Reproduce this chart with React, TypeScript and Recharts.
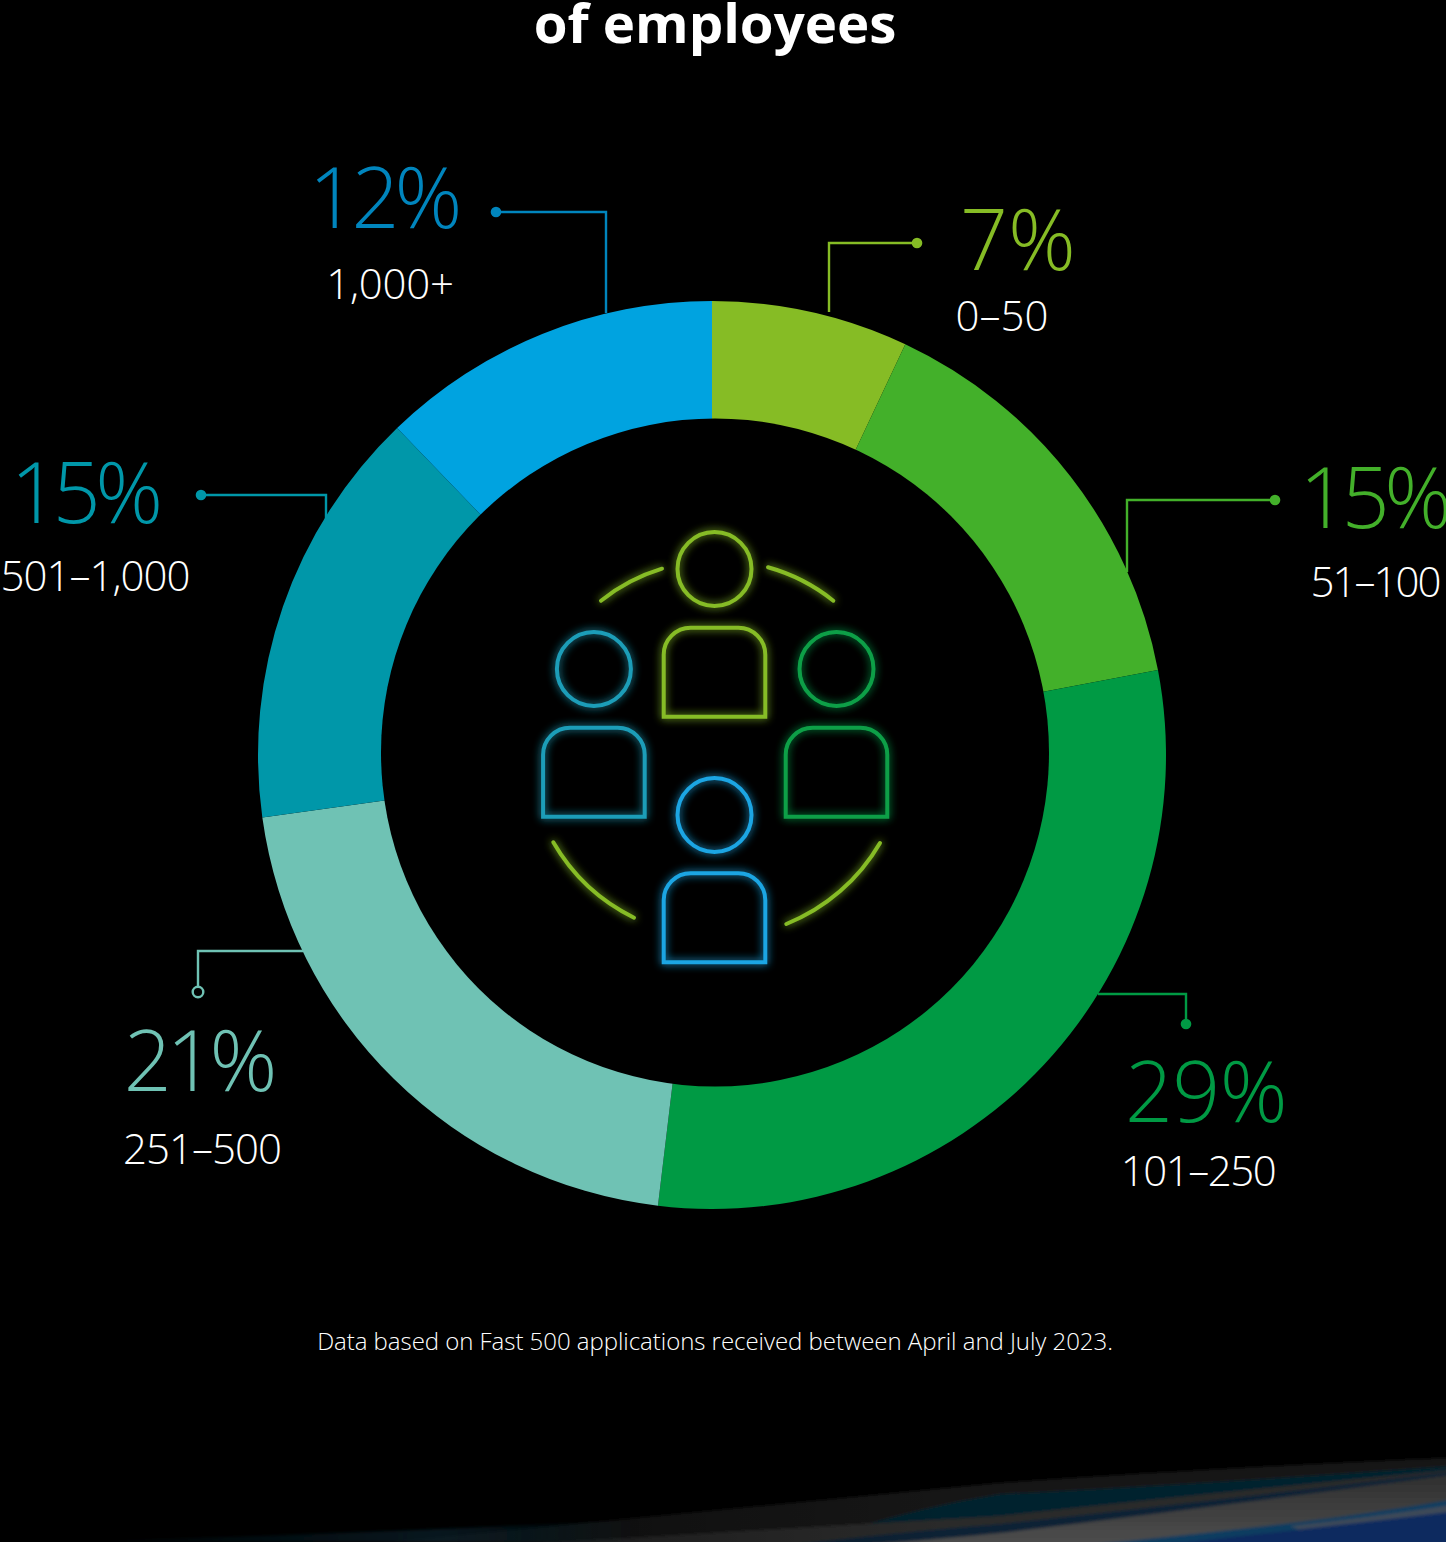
import React from 'react';
import { PieChart, Pie, Cell } from 'recharts';

const categories = ['0–50', '51–100', '101–250', '251–500', '501–1,000', '1,000+'];
const printedShares = [7, 15, 29, 21, 15, 12];
const arcShares = [7, 15, 29.9, 20.9, 15, 12.2];
const sliceColors = ['#86BC25', '#43B02A', '#009A44', '#6FC2B4', '#0097A9', '#00A3E0'];
const textColors = ['#86BC25', '#43B02A', '#009A44', '#6FC2B4', '#0097A9', '#0085BD'];

const rows = categories.map((name, i) => ({ name, value: arcShares[i] }));

// where each callout sits: percent centre/baseline/tracking, range centre/baseline/tracking, leader, dot
const callouts = [
  { px: 1018, py: 270, ps: 0, lx: 1002, ly: 331, ls: 0, path: 'M917 243H829V312', dot: [917, 243] },
  { px: 1373, py: 528, ps: -5.5, lx: 1375, ly: 597, ls: -2, path: 'M1275 500H1127V572', dot: [1275, 500] },
  { px: 1206, py: 1122, ps: -0.5, lx: 1198, ly: 1186, ls: -1.5, path: 'M1186 1024V994H1098', dot: [1186, 1024] },
  { px: 198, py: 1091, ps: -5, lx: 202, ly: 1164, ls: -1, path: 'M198 987V951H303', dot: [198, 992], ring: true },
  { px: 84, py: 523, ps: -5.5, lx: 95, ly: 591, ls: -1, path: 'M201 495H326V520', dot: [201, 495] },
  { px: 383, py: 228, ps: -5, lx: 390, ly: 299, ls: -0.2, path: 'M496 212H606V313', dot: [496, 212] },
];

const FONT = '"Open Sans", sans-serif';

const Person = ({ x, headY, top, bottom, color }: any) => (
  <g stroke={color} strokeWidth={4} fill="none" filter="url(#glow)">
    <circle cx={x} cy={headY} r={37} />
    <path d={`M${x - 50.8} ${bottom}V${top + 27}A27 27 0 0 1 ${x - 23.8} ${top}H${x + 23.8}A27 27 0 0 1 ${x + 50.8} ${top + 27}V${bottom}Z`} />
  </g>
);

const Overlay = () => (
  <svg width={1446} height={1542} style={{ position: 'absolute', left: 0, top: 0 }}>
    <defs>
      <filter id="glow" x="-30%" y="-30%" width="160%" height="160%">
        <feGaussianBlur stdDeviation="4.5" result="b" />
        <feMerge>
          <feMergeNode in="b" />
          <feMergeNode in="SourceGraphic" />
        </feMerge>
      </filter>
      <filter id="soft" x="-5%" y="-20%" width="110%" height="140%">
        <feGaussianBlur stdDeviation="1.6" />
      </filter>
      <linearGradient id="band" x1="0" y1="0" x2="0" y2="1">
        <stop offset="0%" stopColor="#2f2f2f" />
        <stop offset="100%" stopColor="#4e4e4e" />
      </linearGradient>
      <linearGradient id="fade" gradientUnits="userSpaceOnUse" x1="300" y1="0" x2="950" y2="0">
        <stop offset="0%" stopColor="#000" stopOpacity={1} />
        <stop offset="45%" stopColor="#000" stopOpacity={0.3} />
        <stop offset="100%" stopColor="#000" stopOpacity={0} />
      </linearGradient>
      <linearGradient id="lowTeal" x1="0" y1="0" x2="1" y2="0">
        <stop offset="0%" stopColor="#0c3040" stopOpacity={0} />
        <stop offset="65%" stopColor="#0c3040" stopOpacity={0.8} />
        <stop offset="100%" stopColor="#0c3040" stopOpacity={0} />
      </linearGradient>
    </defs>

    {/* the inner hole sits slightly off the ring centre in the original */}
    <circle cx={715} cy={752.5} r={334} fill="#000" />

    {/* backdrop streaks at the bottom edge, painted top band first */}
    <g filter="url(#soft)">
      <path d="M350 1546Q700 1512 1000 1483Q1250 1466 1450 1458V1546Z" fill="#181818" />
      <path d="M800 1546Q900 1510 1000 1494Q1200 1484 1450 1466V1546Z" fill="#06202e" />
      <path d="M500 1546Q800 1528 1000 1516Q1220 1492 1450 1470V1546Z" fill="#2c2c2c" />
      <path d="M780 1546Q900 1532 1000 1524Q1220 1500 1450 1472V1546Z" fill="#0a2335" />
      <path d="M850 1546Q950 1538 1000 1533Q1220 1506 1450 1475V1546Z" fill="url(#band)" />
      <path d="M1077 1546Q1200 1534 1300 1522Q1380 1512 1450 1500V1546Z" fill="#0a3d60" />
      <path d="M1290 1526Q1380 1516 1450 1505V1512Q1380 1522 1300 1530Z" fill="#3d4a58" />
      <path d="M1150 1546Q1300 1530 1450 1512V1546Z" fill="#0a2a5e" />
    </g>
    <rect x={0} y={1440} width={960} height={102} fill="url(#fade)" />
    <path d="M60 1542Q300 1536 640 1520V1542Z" fill="url(#lowTeal)" opacity={0.6} filter="url(#soft)" />

    <text x={715} y={43} textAnchor="middle" fill="#fff" fontFamily={FONT} fontWeight={700} fontSize={54.6}>of employees</text>

    {callouts.map((c, i) => (
      <g key={categories[i]} fontFamily={FONT} fontWeight={300} textAnchor="middle">
        <path d={c.path} fill="none" stroke={textColors[i]} strokeWidth={2.4} />
        {c.ring
          ? <circle cx={c.dot[0]} cy={c.dot[1]} r={5.3} fill="#000" stroke={textColors[i]} strokeWidth={2.4} />
          : <circle cx={c.dot[0]} cy={c.dot[1]} r={5.3} fill={textColors[i]} />}
        <text x={c.px} y={c.py} fill={textColors[i]} fontSize={84} letterSpacing={c.ps}>{printedShares[i]}%</text>
        <text x={c.lx} y={c.ly} fill="#fff" fontSize={42} letterSpacing={c.ls}>{categories[i]}</text>
      </g>
    ))}

    <Person x={714.5} headY={569} top={627.7} bottom={716.7} color="#86BC25" />
    <Person x={593.9} headY={669} top={727.7} bottom={816.7} color="#1D9DB8" />
    <Person x={836.5} headY={669} top={727.7} bottom={816.7} color="#0E9F47" />
    <Person x={714.5} headY={815} top={873.3} bottom={962.3} color="#1AA5E3" />

    <g stroke="#86BC25" strokeWidth={4} fill="none" strokeLinecap="round" filter="url(#glow)">
      <path d="M601 600.7A184 184 0 0 1 662 568.7" />
      <path d="M768 567.3A184 184 0 0 1 833.3 600.7" />
      <path d="M553.3 842.3A190 190 0 0 0 634 917.7" />
      <path d="M880 843A190 190 0 0 1 786.3 924" />
    </g>

    <text x={715} y={1350} textAnchor="middle" fill="#fff" fontFamily={FONT} fontWeight={300} fontSize={24} letterSpacing={-0.04}>
      Data based on Fast 500 applications received between April and July 2023.
    </text>
  </svg>
);

export default function App() {
  return (
    <div style={{ position: 'absolute', left: 0, top: 0, width: 1446, height: 1542, background: '#000', overflow: 'hidden' }}>
      <PieChart width={1446} height={1542} margin={{ top: 0, right: 0, bottom: 0, left: 0 }}>
        <Pie
          data={rows}
          dataKey="value"
          nameKey="name"
          cx={712}
          cy={755}
          innerRadius={320}
          outerRadius={454}
          startAngle={90}
          endAngle={-270}
          stroke="none"
          isAnimationActive={false}
        >
          {rows.map((r, i) => (
            <Cell key={r.name} fill={sliceColors[i]} />
          ))}
        </Pie>
      </PieChart>
      <Overlay />
    </div>
  );
}
